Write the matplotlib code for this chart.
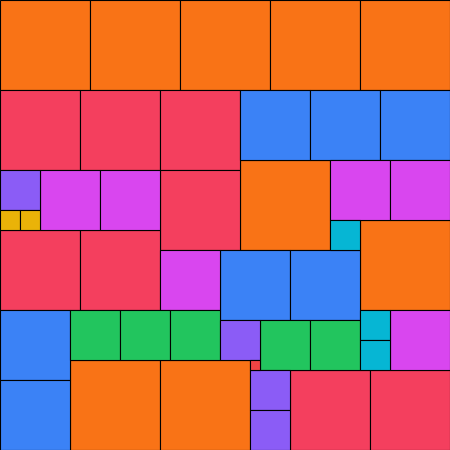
import matplotlib
matplotlib.use("Agg")
import matplotlib.pyplot as plt
from matplotlib.patches import Rectangle

# square layout: size -> colour, and square positions (top-left corners)
sizes = [90]*9 + [80]*8 + [70]*7 + [60]*6 + [50]*5 + [40]*4 + [30]*3 + [20]*2 + [10]
x0 = [0, 90, 180, 270, 360, 240, 360, 70, 160,
      0, 80, 160, 160, 0, 80, 290, 370,
      240, 310, 380, 220, 290, 0, 0,
      40, 100, 330, 390, 160, 390,
      70, 120, 170, 260, 310,
      0, 220, 250, 250,
      330, 360, 360,
      0, 20,
      250]
y0 = [0, 0, 0, 0, 0, 160, 220, 360, 360,
      90, 90, 90, 170, 230, 230, 370, 370,
      90, 90, 90, 250, 250, 310, 380,
      170, 170, 160, 160, 250, 310,
      310, 310, 310, 320, 320,
      170, 320, 370, 410,
      220, 310, 340,
      210, 210,
      360]
size_colors = {90: "#f97316", 80: "#f43f5e", 70: "#3b82f6", 60: "#d946ef",
               50: "#22c55e", 40: "#8b5cf6", 30: "#06b6d4", 20: "#eab308",
               10: "#ef4444"}

fig = plt.figure(figsize=(4.5, 4.5), dpi=100)
ax = fig.add_axes([0, 0, 1, 1])
for s, x, y in zip(sizes, x0, y0):
    ax.add_patch(Rectangle((x, y), s, s, facecolor=size_colors[s],
                           edgecolor="black", linewidth=0.8))
ax.set_xlim(0, 450)
ax.set_ylim(450, 0)
ax.axis("off")
fig.savefig("out.png", dpi=100)
